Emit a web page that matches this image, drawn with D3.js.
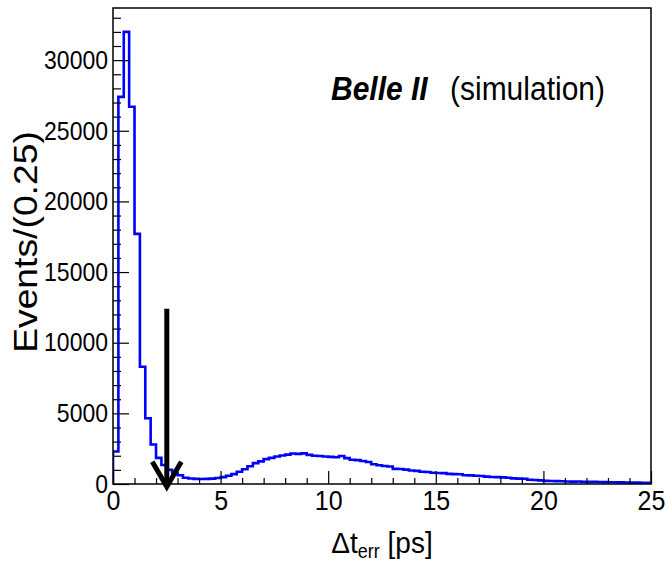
<!DOCTYPE html>
<html>
<head>
<meta charset="utf-8">
<script src="https://cdn.jsdelivr.net/npm/d3@7"></script>
<style>
  body { margin: 0; background: #fff; }
  svg { display: block; font-family: "Liberation Sans", Arial, Helvetica, sans-serif; }
</style>
</head>
<body>
<div id="chart"></div>
<script>
var
  width = 667,
  height = 565;

// histogram: 100 bins of 0.25 ps from 0 to 25
var binStart = 0,
  binWidth = 0.25;
var counts = [
  2300, 27400, 32000, 26700, 17700, 8300, 4650, 2800, 1850, 1350,
  1000, 800, 620, 440, 390, 360, 350, 360, 380, 420,
  490, 580, 700, 870, 1040, 1260, 1480, 1600, 1760, 1850,
  1950, 2020, 2080, 2160, 2130, 2170, 2060, 2000, 1980, 1950,
  1920, 1890, 1980, 1830, 1720, 1690, 1630, 1560, 1400, 1330,
  1270, 1240, 1070, 1060, 1020, 960, 930, 870, 850, 800,
  780, 770, 720, 700, 690, 620, 610, 580, 570, 520,
  500, 490, 470, 440, 400, 380, 370, 300, 280, 260,
  220, 210, 200, 190, 180, 170, 175, 160, 150, 150,
  140, 135, 125, 120, 115, 110, 100, 95, 90, 85
];

var xMajor = [0, 5, 10, 15, 20, 25];
var yMajor = [0, 5000, 10000, 15000, 20000, 25000, 30000];

// cut marker at 2.5 ps
var cutX = 2.5,
  cutTop = 12400,
  cutTip = -200;

var margin = {top: 8, right: 16, bottom: 81, left: 113};
var w = width - margin.left - margin.right,
  h = height - margin.top - margin.bottom;

var svg = d3.select("#chart")
  .append("svg")
  .attr("width", width)
  .attr("height", height);

var x = d3.scaleLinear().domain([0, 25]).range([0, w]);
var y = d3.scaleLinear().domain([0, 33690]).range([h, 0]);

var g = svg.append("g")
  .attr("transform", "translate(" + margin.left + "," + margin.top + ")");

g.append("clipPath").attr("id", "frameclip")
  .append("rect").attr("width", w).attr("height", h + 1);

// histogram as a step line
var pts = [[x(binStart), y(0)]];
counts.forEach(function(v, i) {
  var lo = binStart + i * binWidth, hi = lo + binWidth;
  pts.push([x(lo), y(v)]);
  pts.push([x(hi), y(v)]);
});

g.append("path")
  .attr("clip-path", "url(#frameclip)")
  .attr("d", d3.line()(pts))
  .attr("fill", "none")
  .attr("stroke", "#0000ff")
  .attr("stroke-width", 2.6);

// minor ticks
var yMinor = d3.range(0, 33001, 1000).filter(function(d) { return d % 5000 !== 0; });
var xMinor = d3.range(0, 25.01, 1).filter(function(d) { return d % 5 !== 0; });

g.append("g")
  .attr("class", "axis")
  .call(d3.axisLeft(y).tickValues(yMinor).tickSize(-8).tickFormat(""));
g.append("g")
  .attr("class", "axis")
  .attr("transform", "translate(0," + h + ")")
  .call(d3.axisBottom(x).tickValues(xMinor).tickSize(-6).tickFormat(""));

// major ticks + labels
var yAx = g.append("g")
  .attr("class", "axis")
  .call(d3.axisLeft(y).tickValues(yMajor).tickSize(-16).tickPadding(5).tickFormat(d3.format("d")));
yAx.selectAll("text").attr("font-size", 23).attr("transform", "scale(1,1.12)");

var xAx = g.append("g")
  .attr("class", "axis")
  .attr("transform", "translate(0," + h + ")")
  .call(d3.axisBottom(x).tickValues(xMajor).tickSize(-13).tickPadding(6).tickFormat(d3.format("d")));
xAx.selectAll("text").attr("font-size", 25).attr("transform", "scale(1,1.1)");

svg.selectAll(".axis .domain").remove();
svg.selectAll(".axis line").attr("stroke", "#000").attr("stroke-width", 1.2);
svg.selectAll(".axis text").attr("fill", "#000").attr("font-family", null);

// frame
g.append("rect")
  .attr("width", w)
  .attr("height", h)
  .attr("fill", "none")
  .attr("stroke", "#000")
  .attr("stroke-width", 1.5);

// arrow
g.append("line")
  .attr("x1", x(cutX)).attr("x2", x(cutX))
  .attr("y1", y(cutTop)).attr("y2", y(cutTip) - 2)
  .attr("stroke", "#000")
  .attr("stroke-width", 5);
g.append("path")
  .attr("d", "M" + (x(cutX) - 14.5) + "," + (y(cutTip) - 25) +
    "L" + x(cutX) + "," + y(cutTip) +
    "L" + (x(cutX) + 14.5) + "," + (y(cutTip) - 25))
  .attr("fill", "none")
  .attr("stroke", "#000")
  .attr("stroke-width", 5)
  .attr("stroke-linejoin", "miter");

// labels
var label = svg.append("text")
  .attr("transform", "translate(331,100) scale(1,1.12)")
  .attr("font-size", 30);
label.append("tspan")
  .attr("font-weight", "bold")
  .attr("font-style", "italic")
  .text("Belle II");
label.append("tspan")
  .attr("x", 450 - 331)
  .text("(simulation)");

var xt = svg.append("text")
  .attr("transform", "translate(" + (margin.left + w / 2) + ",553) scale(1,1.08)")
  .attr("text-anchor", "middle")
  .attr("font-size", 28);
xt.append("tspan").text("\u0394t");
xt.append("tspan").attr("font-size", 18).attr("dy", 5).text("err");
xt.append("tspan").attr("dy", -5).text(" [ps]");

svg.append("text")
  .attr("transform", "translate(37,242) rotate(-90) scale(1.13,1)")
  .attr("text-anchor", "middle")
  .attr("font-size", 33)
  .text("Events/(0.25)");
</script>
</body>
</html>
